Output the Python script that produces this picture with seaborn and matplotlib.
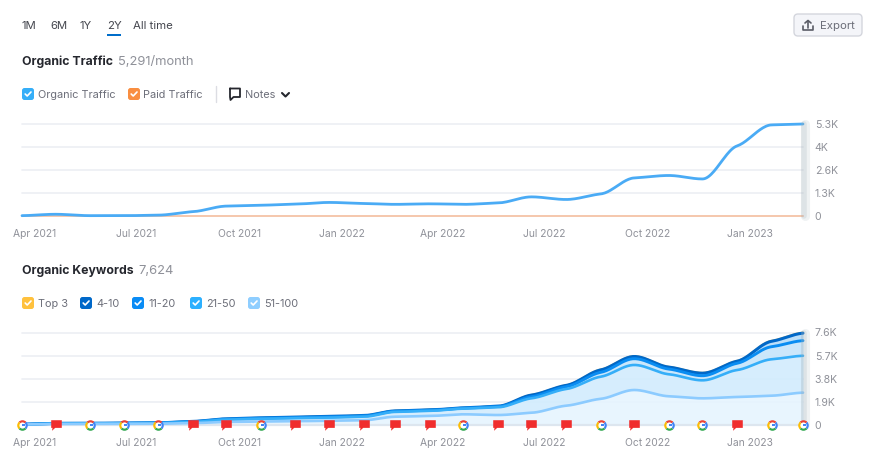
import numpy as np
import pandas as pd
import seaborn as sns
import matplotlib
matplotlib.use("Agg")
import matplotlib.pyplot as plt
import matplotlib.dates as mdates
from matplotlib.patches import FancyBboxPatch, Rectangle
from matplotlib.path import Path
from matplotlib.transforms import ScaledTranslation

# ---------- data ----------
months = pd.date_range("2021-04-01", "2023-03-01", freq="MS")
organic_traffic = [20, 100, 20, 20, 50, 250, 570, 620, 680, 780, 720, 670,
                   700, 670, 750, 1100, 950, 1270, 2190, 2330, 2130, 4030, 5240, 5291]
paid_traffic = [0] * 24
# cumulative keyword totals
kw_51_100 = [20, 60, 60, 70, 85, 130, 230, 260, 290, 320, 370, 660,
             720, 860, 800, 990, 1570, 2140, 2870, 2350, 2180, 2290, 2400, 2650]
kw_21_50 = [30, 95, 95, 115, 135, 230, 420, 490, 540, 590, 660, 1060,
            1140, 1330, 1440, 2183, 2950, 3970, 4940, 4170, 3670, 4520, 5410, 5700]
kw_11_20 = [35, 105, 105, 128, 150, 255, 460, 535, 590, 645, 720, 1110,
            1190, 1370, 1495, 2315, 3140, 4330, 5460, 4600, 4050, 5080, 6450, 6950]
kw_4_10 = [38, 112, 112, 136, 160, 272, 485, 568, 622, 680, 758, 1140,
           1220, 1392, 1530, 2450, 3250, 4530, 5640, 4760, 4260, 5250, 6900, 7570]
kw_top3 = [40, 115, 115, 140, 165, 280, 495, 580, 635, 695, 775, 1160,
           1240, 1405, 1545, 2480, 3280, 4580, 5680, 4800, 4300, 5290, 6950, 7624]
events = list("GFGGGFFGFFFFFGFFFGFGGFGG")
traffic_ticks = [0, 1323, 2646, 3968, 5291]
traffic_labels = ["0", "1.3K", "2.6K", "4K", "5.3K"]
kw_ticks = [0, 1906, 3812, 5718, 7624]
kw_labels = ["0", "1.9K", "3.8K", "5.7K", "7.6K"]
quarter_ticks = pd.date_range("2021-04-01", "2023-01-01", freq="QS")
quarter_labels = ["Apr 2021", "Jul 2021", "Oct 2021", "Jan 2022",
                  "Apr 2022", "Jul 2022", "Oct 2022", "Jan 2023"]

# ---------- style ----------
sns.set_theme(style="white")
plt.rcParams["font.family"] = ["Inter", "DejaVu Sans"]
W, H = 874, 458
GRID = "#eef0f5"
TICK = "#8f9199"
DARK = "#25272e"
MID = "#6c6e79"

fig = plt.figure(figsize=(W / 100, H / 100), dpi=100)
X_NUM = mdates.date2num(months)


def box(x0, y0, x1, y1):
    return [x0 / W, 1 - y1 / H, (x1 - x0) / W, (y1 - y0) / H]


def smooth(x, y, n=24):
    """Stepped monotone curve through the monthly values (display only)."""
    x = np.asarray(x, float)
    y = np.asarray(y, float)
    h = np.diff(x)
    s = np.diff(y) / h
    m = np.zeros_like(y)
    for i in range(1, len(y) - 1):
        if s[i - 1] * s[i] > 0:
            m[i] = 0.45 * 2 * s[i - 1] * s[i] / (s[i - 1] + s[i])
    m[0], m[-1] = s[0] * 0.3, s[-1] * 0.3
    xs, ys = [], []
    for i in range(len(h)):
        t = np.linspace(0, 1, n, endpoint=False)
        a = (1 + 2 * t) * (1 - t) ** 2
        b = t * (1 - t) ** 2
        c = t * t * (3 - 2 * t)
        d = t * t * (t - 1)
        xs.append(x[i] + t * h[i])
        ys.append(a * y[i] + b * h[i] * m[i] + c * y[i + 1] + d * h[i] * m[i + 1])
    return np.r_[np.concatenate(xs), x[-1]], np.r_[np.concatenate(ys), y[-1]]


def setup(ax, ticks, labels):
    ax.set_xlim(X_NUM[0], X_NUM[-1])
    ax.set_ylim(0, ticks[-1])
    ax.set_facecolor("none")
    sns.despine(ax=ax, left=True, bottom=True, top=True, right=True)
    ax.yaxis.tick_right()
    ax.set_yticks(ticks, labels)
    ax.set_xticks(mdates.date2num(quarter_ticks), quarter_labels)
    ax.set_xlabel("")
    ax.set_ylabel("")
    ax.tick_params(axis="x", length=0, labelsize=7.4, labelcolor=TICK, pad=9.5)
    ax.tick_params(axis="y", length=0, labelsize=7.6, labelcolor=TICK, pad=8.5)
    off = ScaledTranslation(13 / 100, 0, fig.dpi_scale_trans)
    for lab in ax.get_xticklabels():
        lab.set_transform(lab.get_transform() + off)
    ax.grid(False)
    for t in ticks:
        ax.axhline(t, color=GRID, lw=1.3, zorder=0, clip_on=False)
    ax.axvline(X_NUM[-1] + 0.5, color="#9fb0b8", lw=4, alpha=0.22, zorder=6, clip_on=False)
    ax.axvline(X_NUM[-1] + 1.5, color="#9fb0b8", lw=6.5, alpha=0.16, zorder=6, clip_on=False)


def draw(ax, y, color, lw, z):
    xs, ys = smooth(X_NUM, y)
    sns.lineplot(x=xs, y=ys, color=color, lw=lw, ax=ax, zorder=z, estimator=None,
                 sort=False, clip_on=False, solid_capstyle="round", legend=False)
    return xs, ys


# ---------- traffic chart ----------
ax1 = fig.add_axes(box(22, 124, 803, 216))
draw(ax1, paid_traffic, "#f6c7ad", 1.4, 3)
draw(ax1, organic_traffic, "#4aabf5", 2.0, 4)
setup(ax1, traffic_ticks, traffic_labels)

# ---------- keywords chart ----------
ax2 = fig.add_axes(box(22, 332.5, 803, 424.7))
layers = [
    (kw_51_100, "#8ccbff", 1.9, "#e6f4fe", 4.4),
    (kw_21_50, "#35aef8", 1.9, "#d2ecfd", 4.3),
    (kw_11_20, "#0a8df2", 2.1, "#c6e5fb", 4.2),
    (kw_4_10, "#0068c9", 2.2, "#b5dcf9", 4.1),
    (kw_top3, "#ffc13d", 1.2, "#ffffff", 4.0),
]
lower = np.zeros(24)
for i, (vals, col, lw, fill, z) in enumerate(layers):
    xs, ys = smooth(X_NUM, vals)
    _, ylow = smooth(X_NUM, lower)
    if i < 4:
        ax2.fill_between(xs, ylow, ys, color=fill, alpha=0.9, lw=0, zorder=1)
    lower = np.asarray(vals, float)
    draw(ax2, vals, col, lw, z)
setup(ax2, kw_ticks, kw_labels)
ax2.axhline(0, color="#dde6ef", lw=1.6, zorder=2, clip_on=False)

# event markers on the zero line
flag = Path([(-1, 1), (1, 1), (1, -0.45), (-0.25, -0.45), (-0.85, -1), (-0.75, -0.45), (-1, -0.45), (-1, 1)],
            closed=True)
ex = np.array(X_NUM)
is_g = np.array([e == "G" for e in events])
ax2.scatter(ex[~is_g], np.zeros((~is_g).sum()), marker=flag, s=58, color="#f02d2d",
            lw=0, zorder=9, clip_on=False)
g_parts = [(-45, 45, "#4285f4"), (45, 135, "#ea4335"), (135, 225, "#fbbc05"), (225, 315, "#34a853")]
for t1, t2, c in g_parts:
    ax2.scatter(ex[is_g], np.zeros(is_g.sum()), marker=Path.wedge(t1, t2), s=58, color=c,
                lw=0, zorder=9, clip_on=False)
ax2.scatter(ex[is_g], np.zeros(is_g.sum()), marker="o", s=20, color="white", lw=0, zorder=10, clip_on=False)
ax2.scatter(ex[is_g], np.zeros(is_g.sum()), marker=Path([(0, 0.2), (1, 0.2), (1, -0.2), (0, -0.2), (0, 0.2)], closed=True),
            s=24, color="#4285f4", lw=0, zorder=11, clip_on=False)

# ---------- interface overlay in pixel coordinates ----------
ui = fig.add_axes([0, 0, 1, 1], zorder=-1)
ui.set_xlim(0, W)
ui.set_ylim(H, 0)
ui.axis("off")


def txt(x, y, s, color=MID, size=7.85, weight="normal", ha="left"):
    ui.text(x, y + 0.8, s, color=color, fontsize=size, fontweight=weight, ha=ha, va="center")


def checkbox(x, y, color):
    ui.add_patch(FancyBboxPatch((x + 2, y - 4), 8, 8, boxstyle="round,pad=2,rounding_size=2.5",
                                fc=color, ec="none"))
    ui.plot([x + 3.2, x + 5.2, x + 9], [y, y + 2, y - 2], color="white", lw=1.2, solid_capstyle="round")


for x, s in zip([22, 50, 80, 107, 133], ["1M", "6M", "1Y", "2Y", "All time"]):
    txt(x, 25, s, color="#45474f", size=8.2)
ui.add_patch(Rectangle((106.5, 34), 14, 2, fc="#006dca", ec="none"))

txt(22, 61, "Organic Traffic", color=DARK, size=8.85, weight="bold")
txt(118, 61, "5,291/month", color=TICK, size=9.3)
txt(22, 270, "Organic Keywords", color=DARK, size=8.85, weight="bold")
txt(138, 270, "7,624", color=TICK, size=9.3)

checkbox(22, 94, "#35aef8")
txt(38, 94, "Organic Traffic")
checkbox(128, 94, "#f98e41")
txt(143, 94, "Paid Traffic")
ui.plot([215.5, 215.5], [86, 102], color="#dcdde3", lw=1)
ui.plot([230, 240, 240, 233.5, 230.5, 230, 230], [88.5, 88.5, 97, 97, 100, 97, 88.5], color=DARK, lw=1.3)
txt(245, 94, "Notes")
ui.plot([282, 285.5, 289], [93, 96.5, 93], color=DARK, lw=1.5)

for x, c, s in zip([22, 80, 132, 190, 248],
                   ["#ffc13d", "#0068c9", "#0a8cf5", "#2cb0ff", "#8fceff"],
                   ["Top 3", "4-10", "11-20", "21-50", "51-100"]):
    checkbox(x, 303, c)
    txt(x + 16, 303, s)

ui.add_patch(FancyBboxPatch((796, 16), 64, 18, boxstyle="round,pad=2,rounding_size=4",
                            fc="#f4f5f9", ec="#d4d6dd", lw=1))
ui.plot([803, 803, 813, 813], [26, 30, 30, 26], color="#5a5c66", lw=1.2)
ui.plot([808, 808], [20.5, 27.5], color="#5a5c66", lw=1.2)
ui.plot([805, 808, 811], [23, 20.5, 23], color="#5a5c66", lw=1.2)
txt(820, 25, "Export", color="#6c6e79", size=8.2)

fig.savefig("out.png", dpi=100, facecolor="white")
